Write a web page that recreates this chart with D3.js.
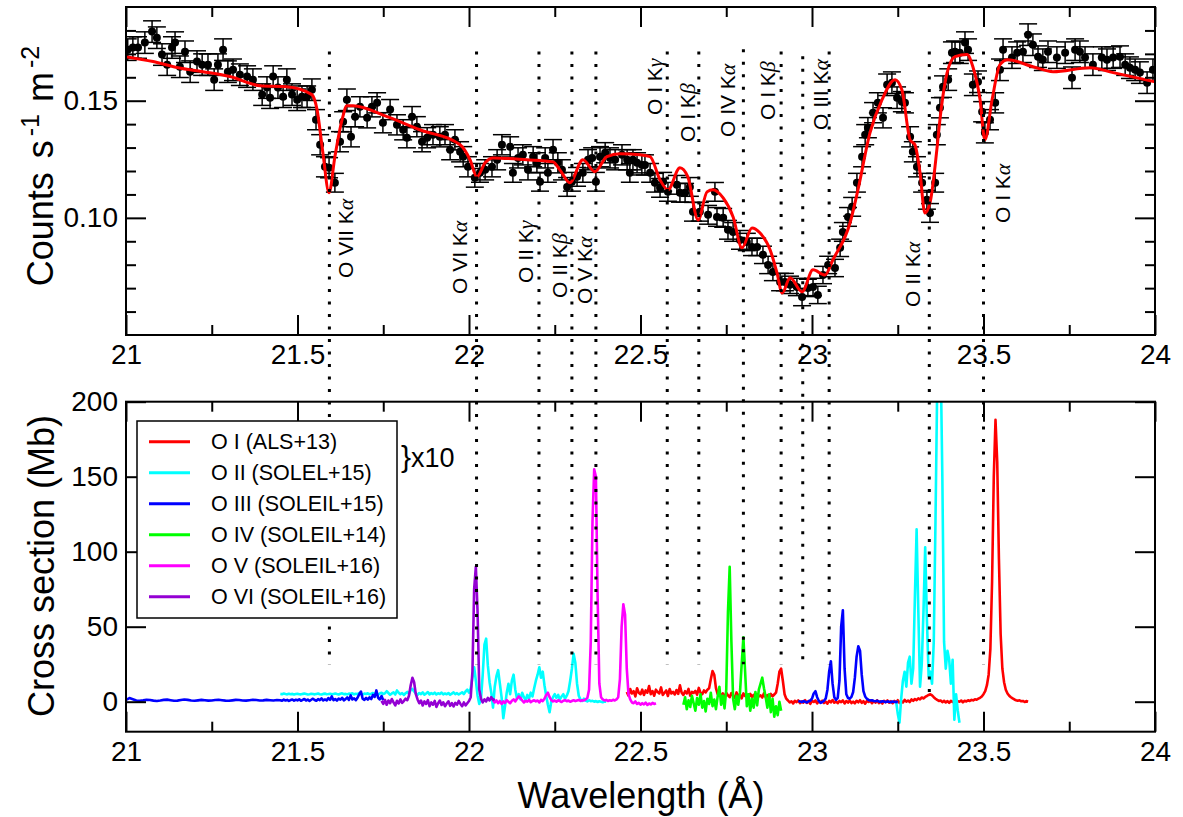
<!DOCTYPE html>
<html><head><meta charset="utf-8">
<script src="https://cdn.jsdelivr.net/npm/d3@7"></script>
<style>
body{margin:0;background:#fff;}
svg{display:block;font-family:"Liberation Sans",Arial,Helvetica,sans-serif;}
</style>
</head><body>
<svg id="c" width="1183" height="817"></svg>
<script>
// ---------------- axes / ticks ----------------
const xDomain = [21, 24];
const xMajor = [21, 21.5, 22, 22.5, 23, 23.5, 24];
const xMajorLabels = ["21", "21.5", "22", "22.5", "23", "23.5", "24"];
const xMinor = [21.25, 21.75, 22.25, 22.75, 23.25, 23.75];
const topYDomain = [0.05, 0.19];
const topYMajor = [0.10, 0.15];
const topYMajorLabels = ["0.10", "0.15"];
const topYMinor = [0.06, 0.07, 0.08, 0.09, 0.11, 0.12, 0.13, 0.14, 0.16, 0.17, 0.18];
const botYDomain = [-20, 200];
const botYMajor = [0, 50, 100, 150, 200];
const botYMajorLabels = ["0", "50", "100", "150", "200"];

// ---------------- top panel: observed counts [wavelength, counts, error] ----------------
const obsData = [
[21.005,0.1718,.0046],[21.020,0.1727,.0046],[21.035,0.1727,.0046],[21.055,0.1748,.0046],[21.076,0.1795,.0046],
[21.090,0.1769,.0046],[21.105,0.1697,.0046],[21.120,0.1654,.0046],[21.134,0.1727,.0046],[21.143,0.1748,.0046],
[21.157,0.1645,.0046],[21.172,0.1709,.0046],[21.187,0.1624,.0046],[21.207,0.1667,.0046],[21.222,0.1654,.0046],
[21.239,0.1654,.0046],[21.257,0.1590,.0046],[21.268,0.1654,.0046],[21.283,0.1718,.0046],[21.297,0.1624,.0046],
[21.312,0.1632,.0046],[21.332,0.1611,.0046],[21.353,0.1603,.0046],[21.370,0.1590,.0046],[21.397,0.1526,.0046],
[21.411,0.1556,.0046],[21.420,0.1513,.0046],[21.429,0.1603,.0046],[21.443,0.1556,.0046],[21.458,0.1517,.0046],
[21.469,0.1590,.0046],[21.484,0.1526,.0046],[21.499,0.1504,.0046],[21.513,0.1517,.0046],[21.528,0.1517,.0046],
[21.542,0.1547,.0046],[21.554,0.1419,.0043],[21.566,0.1312,.0043],[21.580,0.1218,.0043],[21.592,0.1214,.0043],
[21.609,0.1150,.0040],[21.624,0.1325,.0043],[21.633,0.1410,.0043],[21.644,0.1504,.0046],[21.656,0.1346,.0043],
[21.668,0.1432,.0043],[21.682,0.1474,.0043],[21.703,0.1427,.0043],[21.717,0.1474,.0043],[21.732,0.1491,.0043],
[21.749,0.1406,.0043],[21.770,0.1462,.0043],[21.790,0.1397,.0043],[21.808,0.1376,.0043],[21.819,0.1342,.0043],
[21.834,0.1432,.0043],[21.848,0.1389,.0043],[21.863,0.1325,.0043],[21.878,0.1342,.0043],[21.895,0.1355,.0043],
[21.915,0.1346,.0043],[21.930,0.1355,.0043],[21.945,0.1291,.0043],[21.959,0.1333,.0043],[21.974,0.1282,.0043],
[21.983,0.1261,.0043],[21.997,0.1218,.0043],[22.017,0.1171,.0040],[22.032,0.1192,.0040],[22.047,0.1205,.0043],
[22.067,0.1218,.0043],[22.082,0.1248,.0043],[22.096,0.1312,.0043],[22.120,0.1303,.0043],[22.128,0.1192,.0040],
[22.143,0.1256,.0043],[22.157,0.1269,.0043],[22.172,0.1205,.0043],[22.187,0.1261,.0043],[22.198,0.1235,.0043],
[22.207,0.1154,.0040],[22.222,0.1256,.0043],[22.230,0.1192,.0040],[22.245,0.1291,.0043],[22.259,0.1235,.0043],
[22.271,0.1205,.0043],[22.286,0.1132,.0040],[22.300,0.1154,.0040],[22.315,0.1175,.0040],[22.332,0.1192,.0040],
[22.347,0.1248,.0043],[22.359,0.1256,.0043],[22.370,0.1154,.0040],[22.382,0.1261,.0043],[22.397,0.1278,.0043],
[22.411,0.1256,.0043],[22.426,0.1248,.0043],[22.446,0.1269,.0043],[22.461,0.1248,.0043],[22.469,0.1192,.0040],
[22.478,0.1248,.0043],[22.490,0.1235,.0043],[22.504,0.1226,.0043],[22.513,0.1226,.0043],[22.528,0.1192,.0040],
[22.542,0.1150,.0040],[22.557,0.1128,.0040],[22.566,0.1154,.0040],[22.580,0.1111,.0040],[22.606,0.1141,.0040],
[22.615,0.1107,.0040],[22.630,0.1107,.0040],[22.644,0.1132,.0040],[22.653,0.1026,.0040],[22.673,0.1026,.0040],
[22.697,0.1013,.0040],[22.717,0.1111,.0040],[22.723,0.1004,.0040],[22.741,0.1000,.0040],[22.755,0.0949,.0040],
[22.770,0.0940,.0040],[22.790,0.0906,.0040],[22.810,0.0897,.0037],[22.825,0.0876,.0037],[22.840,0.0876,.0037],
[22.857,0.0842,.0037],[22.872,0.0799,.0037],[22.886,0.0769,.0037],[22.907,0.0726,.0037],[22.921,0.0726,.0037],
[22.936,0.0714,.0037],[22.956,0.0705,.0037],[22.971,0.0662,.0037],[22.988,0.0701,.0037],[23.003,0.0705,.0037],
[23.017,0.0671,.0037],[23.032,0.0756,.0037],[23.047,0.0799,.0037],[23.067,0.0786,.0037],[23.082,0.0872,.0037],
[23.090,0.0940,.0040],[23.105,0.1004,.0040],[23.117,0.1047,.0040],[23.131,0.1150,.0040],[23.146,0.1261,.0043],
[23.155,0.1355,.0043],[23.163,0.1385,.0043],[23.178,0.1449,.0043],[23.192,0.1491,.0043],[23.207,0.1427,.0043],
[23.219,0.1568,.0046],[23.233,0.1577,.0046],[23.248,0.1513,.0046],[23.262,0.1496,.0043],[23.271,0.1491,.0043],
[23.286,0.1346,.0043],[23.294,0.1282,.0043],[23.306,0.1218,.0043],[23.321,0.1150,.0040],[23.335,0.1077,.0040],
[23.344,0.1021,.0040],[23.359,0.1150,.0040],[23.364,0.1355,.0043],[23.373,0.1470,.0043],[23.382,0.1560,.0046],
[23.397,0.1590,.0046],[23.408,0.1705,.0046],[23.417,0.1709,.0046],[23.431,0.1705,.0046],[23.446,0.1748,.0046],
[23.455,0.1718,.0046],[23.469,0.1568,.0046],[23.484,0.1581,.0046],[23.496,0.1453,.0043],[23.504,0.1363,.0043],
[23.519,0.1419,.0043],[23.534,0.1491,.0043],[23.548,0.1632,.0046],[23.557,0.1718,.0046],[23.583,0.1684,.0046],
[23.598,0.1705,.0046],[23.615,0.1709,.0046],[23.630,0.1782,.0046],[23.644,0.1739,.0046],[23.659,0.1688,.0046],
[23.673,0.1675,.0046],[23.688,0.1709,.0046],[23.714,0.1684,.0046],[23.738,0.1705,.0046],[23.758,0.1598,.0046],
[23.767,0.1718,.0046],[23.781,0.1709,.0046],[23.796,0.1684,.0046],[23.819,0.1654,.0046],[23.845,0.1684,.0046],
[23.860,0.1675,.0046],[23.878,0.1684,.0046],[23.898,0.1688,.0046],[23.913,0.1654,.0046],[23.927,0.1641,.0046],
[23.942,0.1632,.0046],[23.956,0.1620,.0046],[23.977,0.1577,.0046],[23.994,0.1632,.0046]
];

// model (red curve)
const modelWave = [21.000,21.079,21.152,21.224,21.303,21.391,21.469,21.542,21.557,21.574,21.592,21.609,21.630,21.644,21.662,21.761,21.857,21.974,22.003,22.023,22.047,22.070,22.169,22.245,22.265,22.294,22.332,22.367,22.402,22.440,22.499,22.528,22.557,22.580,22.615,22.638,22.668,22.694,22.711,22.741,22.770,22.796,22.825,22.848,22.878,22.898,22.913,22.936,22.971,23.003,23.038,23.061,23.111,23.134,23.169,23.204,23.242,23.262,23.286,23.300,23.315,23.329,23.344,23.364,23.373,23.394,23.417,23.452,23.469,23.490,23.504,23.525,23.548,23.571,23.644,23.703,23.810,23.878,24.000];
const modelCounts = [0.1688,0.1667,0.1641,0.1624,0.1603,0.1564,0.1560,0.1526,0.1462,0.1278,0.1107,0.1261,0.1419,0.1479,0.1479,0.1432,0.1376,0.1312,0.1248,0.1175,0.1235,0.1256,0.1248,0.1239,0.1205,0.1150,0.1248,0.1197,0.1261,0.1274,0.1269,0.1261,0.1162,0.1120,0.1214,0.1175,0.0991,0.1111,0.1120,0.1085,0.1004,0.0872,0.0957,0.0936,0.0863,0.0765,0.0679,0.0744,0.0684,0.0778,0.0756,0.0821,0.0979,0.1120,0.1363,0.1504,0.1590,0.1547,0.1333,0.1312,0.1192,0.1021,0.1064,0.1291,0.1419,0.1620,0.1688,0.1697,0.1645,0.1504,0.1333,0.1504,0.1654,0.1675,0.1645,0.1624,0.1641,0.1620,0.1581];

// transition lines (dotted) and labels
const lineWaves = [21.593,22.022,22.204,22.300,22.370,22.578,22.670,22.800,22.910,22.973,23.050,23.342,23.500];
const lineTopCounts = [0.171,0.171,0.171,0.171,0.171,0.171,0.171,0.172,0.171,0.169,0.171,0.171,0.171];
const lineBottomMb = [25,25,25,25,25,25,25,25,25,25,25,1,25];
const lineLabelIons = ["O VII K","O VI K","O II K","O II K","O V K","O I K","O I K","O IV K","O I K","O III K","O II K","O I K"];
const lineLabelGreek = ["\u03b1","\u03b1","\u03b3","\u03b2","\u03b1","\u03b3","\u03b2","\u03b1","\u03b2","\u03b1","\u03b1","\u03b1"];
const labelWaves = [21.593,22.022,22.204,22.300,22.370,22.578,22.670,22.800,22.910,23.050,23.342,23.500];

// ---------------- bottom panel: cross sections (Mb) on wavelength grids ----------------
const gridStep = 0.005;
const oI_start = 22.46;
const oI_vals = [6.5,4.0,8.5,5.5,7.0,3.5,9.0,6.0,5.0,8.0,4.5,7.5,6.0,10.5,5.0,7.0,4.0,8.0,6.5,5.5,9.5,4.5,6.0,7.5,3.8,8.5,5.5,6.5,4.8,7.8,5.2,11.0,6.0,4.5,7.0,5.5,8.5,4.0,6.5,5.8,7.2,4.6,9.2,6.0,5.0,7.5,6.2,8.0,
 9.0,15.0,20.5,18.0,9.0,5.0,6.5,
 3.5,5.5,2.8,6.0,4.2,3.0,5.8,4.0,2.5,6.2,3.6,4.8,2.2,5.5,3.8,4.5,2.6,5.2,3.2,4.6,2.0,5.0,3.5,4.2,2.8,5.6,3.0,4.4,2.4,5.2,3.6,4.8,
 6.0,12.0,20.0,22.0,14.0,5.0,2.0,
 0.8,-0.5,0.3,-1.2,0.6,-0.3,0.9,-1.0,0.2,-0.6,1.0,-0.8,0.4,-1.4,0.5,-0.2,0.8,-1.1,0.3,-0.5,
 0.7,-0.9,0.1,-1.3,0.6,-0.4,1.1,-0.7,0.2,-1.0,0.5,-0.3,0.9,-1.2,0.4,-0.6,0.8,-0.9,0.0,-1.1,
 0.6,-0.4,1.0,-0.8,0.3,-1.3,0.5,-0.2,0.7,-1.0,0.4,-0.6,0.9,-0.9,0.2,-1.2,0.6,-0.3,0.8,-0.7,
 0.3,-1.0,0.5,-0.4,1.0,-0.8,0.4,-0.5,1.2,0.0,0.8,-0.2,1.5,0.6,1.8,1.0,2.2,1.6,2.8,2.2,3.2,
 3.8,4.5,5.0,4.2,3.0,2.0,1.2,0.5,0.8,-0.3,0.6,-0.5,0.4,-0.8,0.5,-0.2,0.7,-0.6,0.3,0.0,0.8,-0.4,0.6,0.2,1.0,0.5,1.2,0.9,1.6,1.3,2.0,2.6,3.5,5.0,
 7.0,11.0,18.0,35.0,80.0,150.0,188.0,160.0,95.0,45.0,22.0,13.0,8.0,5.5,
 4.0,3.0,2.2,1.5,1.0,0.6,0.9,0.3,0.5,-0.2,0.4,0.0];

const oII_startA = 21.45;
const oII_valsA = [5.2,5.0,5.4,5.1,4.9,5.3,5.0,5.2,4.8,5.1,5.3,5.0,4.9,5.2,5.4,5.1,4.8,5.0,5.3,5.1,
 4.9,5.2,5.5,5.0,4.8,5.2,5.4,5.0,5.1,5.3,4.9,5.2,5.5,5.1,4.8,5.3,5.6,5.0,5.2,4.9,
 5.4,5.1,5.6,4.9,5.3,5.0,5.7,5.2,4.8,5.4,5.1,5.6,4.9,5.3,5.8,5.0,5.4,4.7,5.5,6.0,
 5.1,5.6,7.0,5.8,4.6,5.5,6.2,4.8,7.5,6.0,5.0,5.8,4.5,5.6,6.5,5.2,7.8,8.5,6.8,5.5,
 4.6,5.8,5.0,6.2,4.7,5.5,6.4,4.9,5.7,5.1,6.0,4.8,5.6,5.2,6.1,4.9,5.5,5.0,5.8,4.6,
 5.4,6.2,5.0,5.7,4.8,5.5,6.3,5.1,6.8,8.0,6.0,9.0,16.0,23.0,14.0,4.0,-1.5,2.0,18.0,38.0,
 42.0,24.0,13.0,6.0,-4.0,10.0,17.0,21.0,12.0,3.0,-11.0,-3.0,6.0,12.0,5.0,14.0,18.0,8.0,2.0,5.0,
 1.5,6.0,3.0,1.0,4.5,2.0,6.0,3.5,9.0,14.0,18.0,23.0,16.0,20.0,11.0,4.0,-2.0,-7.0,0.5,3.0,
 5.0,2.5,4.5,1.5,3.5,5.0,2.0,4.0,7.0,14.0,22.0,32.0,26.0,12.0,4.0,1.5,0.5,2.0,0.8,0.2,
 1.0,0.3,0.6,0.0,0.4,-0.2,0.3,0.0,-0.3,0.1,0.0];
const oII_startB = 23.245;
const oII_valsB = [0.5,-8.0,-14.0,2.0,14.0,20.0,10.0,26.0,30.0,12.0,22.0,70.0,115.0,60.0,10.0,25.0,60.0,103.0,55.0,17.0,
 20.0,12.0,40.0,120.0,210.0,240.0,230.0,150.0,40.0,22.0,34.0,28.0,12.0,28.0,-12.0,5.0,-6.0,-14.0];

const oIII_startA = 21.00, oIII_stepA = 0.01;
const oIII_valsA = [1.2,2.4,1.6,0.8,0.6,0.9,1.3,1.1,0.7,0.5,0.8,1.2,1.4,1.0,0.6,0.7,1.1,1.5,1.2,0.8,
 0.6,0.9,1.2,1.0,0.7,0.8,1.1,1.3,1.0,0.7,0.6,0.9,1.2,1.1,0.8,0.7,1.0,1.3,1.1,0.8,0.9,1.2,1.0,0.8,1.1];
const oIII_startB = 21.45;
const oIII_valsB = [1.0,0.6,1.4,0.8,1.2,0.5,1.1,1.5,0.7,1.3,0.9,1.6,0.6,1.2,1.8,0.8,1.4,0.5,1.3,2.0,
 1.1,0.6,1.7,1.0,2.2,0.8,1.5,0.9,2.4,1.2,3.5,1.0,1.8,0.7,2.1,1.3,2.6,0.9,1.7,2.8,
 1.2,4.2,1.5,2.3,1.0,2.6,5.0,6.8,2.0,1.2,2.5,1.4,2.9,1.8,4.5,3.2,7.5,2.6,1.5,3.8,1.0];
const oIII_startC = 22.96;
const oIII_valsC = [0.5,0.2,-0.3,0.4,0.0,-0.5,0.3,0.8,2.0,5.5,7.0,3.0,0.5,-0.8,-0.2,0.6,2.2,8.0,20.0,27.0,
 12.0,3.0,1.2,2.5,14.0,50.0,61.0,22.0,5.0,2.5,2.0,3.2,6.5,16.0,30.0,37.0,34.0,18.0,7.0,3.5,
 2.0,1.2,0.8,1.0,0.5,0.3,0.6,0.2,-0.2,0.3,0.1,-0.3,0.2,0.0,-0.4,0.1,-0.2,0.0,-0.5];

const oIV_start = 22.625;
const oIV_vals = [-2.0,3.0,-5.0,1.0,-3.5,4.0,-1.0,-6.0,2.5,-2.0,5.0,-4.0,0.5,-6.5,2.0,-1.5,6.0,-3.0,1.5,-5.0,
 3.5,10.0,-2.0,4.0,-4.5,8.0,60.0,90.0,40.0,2.0,-5.0,4.0,-2.0,6.0,25.0,43.0,20.0,-3.0,5.0,-6.0,
 2.0,-4.0,6.5,-2.5,8.0,12.0,16.0,9.0,3.0,-4.0,5.0,-7.0,2.0,-10.0,-3.0,-9.0,0.0,-6.0];

const oV_start = 22.07;
const oV_vals = [1.0,-0.5,0.8,-1.0,0.5,-1.5,0.2,-0.8,1.0,0.0,-1.0,0.6,1.5,0.2,2.0,3.5,2.5,0.8,-0.5,0.6,
 0.0,1.2,-0.3,0.5,1.0,0.2,0.8,-0.5,1.2,0.4,2.0,4.5,6.0,3.0,1.0,0.2,0.8,0.0,1.0,0.4,
 -0.2,0.6,1.0,0.3,0.8,0.0,0.5,1.0,0.4,0.8,1.2,0.5,1.0,0.8,1.5,2.5,8.0,40.0,120.0,155.0,
 150.0,70.0,12.0,3.0,1.5,0.8,1.2,0.5,1.0,0.6,1.3,0.8,1.5,3.0,15.0,50.0,65.0,58.0,22.0,5.0,
 1.5,-0.5,-1.0,0.2,-1.5,-0.8,-2.0,-1.0,-1.8,-0.6,-2.2,-1.2,-1.8,-0.8,-1.5,-1.0];

const oVI_start = 21.745;
const oVI_vals = [0.5,-1.5,1.2,-2.0,0.8,-1.0,1.8,-0.5,-2.5,0.6,-1.2,1.5,-0.8,0.4,2.0,1.0,4.0,11.0,16.0,13.0,
 5.0,1.5,-1.0,0.8,-2.5,0.2,-1.5,1.0,-3.0,-0.5,-2.0,0.5,-3.5,-1.0,0.8,-2.2,-0.4,-3.0,-1.2,0.3,
 -2.8,-1.0,-3.2,-0.8,-2.0,0.5,-1.5,-3.0,-0.5,-2.5,-1.0,0.5,3.0,20.0,75.0,90.0,60.0,8.0,2.0,-0.5,
 1.5,0.2,2.5,0.8,3.0,1.2,2.0];

const seriesNames = ["O I (ALS+13)","O II (SOLEL+15)","O III (SOLEIL+15)","O IV (SOLEIL+14)","O V (SOLEIL+16)","O VI (SOLEIL+16)"];
const seriesColors = ["#ff0000","#00ffff","#0000ff","#00ff00","#ff00ff","#9400d3"];

// ---------------- build ----------------
const grid = (start, step, vals) => vals.map((v, i) => [start + i * step, v]);
const seriesSegments = [
  [grid(oI_start, gridStep, oI_vals)],
  [grid(oII_startA, gridStep, oII_valsA), grid(oII_startB, gridStep, oII_valsB)],
  [grid(oIII_startA, oIII_stepA, oIII_valsA).concat(grid(oIII_startB, gridStep, oIII_valsB)), grid(oIII_startC, gridStep, oIII_valsC)],
  [grid(oIV_start, gridStep, oIV_vals)],
  [grid(oV_start, gridStep, oV_vals)],
  [grid(oVI_start, gridStep, oVI_vals)]
];

const svg = d3.select("#c");
const L = 126, R = 1155;
const T1 = 7, B1 = 335, T2 = 401.7, B2 = 731.7;
const x = d3.scaleLinear().domain(xDomain).range([L, R]);
const yT = d3.scaleLinear().domain(topYDomain).range([B1, T1]);
const yB = d3.scaleLinear().domain(botYDomain).range([B2, T2]);

const defs = svg.append("defs");
defs.append("clipPath").attr("id", "clipT").append("rect").attr("x", L).attr("y", T1).attr("width", R - L).attr("height", B1 - T1);
defs.append("clipPath").attr("id", "clipB").append("rect").attr("x", L).attr("y", T2).attr("width", R - L).attr("height", B2 - T2);

function drawAxes(top, bottom, yScale, yMajor, yMajorLabels, yMinor) {
  const g = svg.append("g");
  const style = sel => { sel.select(".domain").remove(); sel.selectAll("line").attr("stroke", "#000").attr("stroke-width", 2); sel.selectAll("text").attr("font-size", 28).attr("fill", "#000").attr("font-family", "Liberation Sans, Arial, sans-serif"); };
  g.append("g").attr("transform", `translate(0,${bottom})`).call(d3.axisBottom(x).tickValues(xMajor).tickSize(-20).tickPadding(9).tickFormat((d, i) => xMajorLabels[i])).call(style);
  g.append("g").attr("transform", `translate(0,${bottom})`).call(d3.axisBottom(x).tickValues(xMinor).tickSize(-10).tickFormat("")).call(style);
  g.append("g").attr("transform", `translate(0,${top})`).call(d3.axisTop(x).tickValues(xMajor).tickSize(-20).tickFormat("")).call(style);
  g.append("g").attr("transform", `translate(0,${top})`).call(d3.axisTop(x).tickValues(xMinor).tickSize(-10).tickFormat("")).call(style);
  g.append("g").attr("transform", `translate(${L},0)`).call(d3.axisLeft(yScale).tickValues(yMajor).tickSize(-20).tickPadding(8).tickFormat((d, i) => yMajorLabels[i])).call(style);
  if (yMinor.length) g.append("g").attr("transform", `translate(${L},0)`).call(d3.axisLeft(yScale).tickValues(yMinor).tickSize(-10).tickFormat("")).call(style);
  g.append("g").attr("transform", `translate(${R},0)`).call(d3.axisRight(yScale).tickValues(yMajor).tickSize(-20).tickFormat("")).call(style);
  if (yMinor.length) g.append("g").attr("transform", `translate(${R},0)`).call(d3.axisRight(yScale).tickValues(yMinor).tickSize(-10).tickFormat("")).call(style);
  g.append("rect").attr("x", L).attr("y", top).attr("width", R - L).attr("height", bottom - top).attr("fill", "none").attr("stroke", "#000").attr("stroke-width", 2);
}

// ---- top panel data ----
const gT = svg.append("g").attr("clip-path", "url(#clipT)");
const eb = gT.append("g").attr("stroke", "#000").attr("stroke-width", 1.5);
const capW = 9;
eb.selectAll("line.v").data(obsData).join("line").attr("class", "v")
  .attr("x1", d => x(d[0])).attr("x2", d => x(d[0])).attr("y1", d => yT(d[1] - d[2])).attr("y2", d => yT(d[1] + d[2]));
eb.selectAll("line.ct").data(obsData).join("line").attr("class", "ct")
  .attr("x1", d => x(d[0]) - capW).attr("x2", d => x(d[0]) + capW).attr("y1", d => yT(d[1] + d[2])).attr("y2", d => yT(d[1] + d[2]));
eb.selectAll("line.cb").data(obsData).join("line").attr("class", "cb")
  .attr("x1", d => x(d[0]) - capW).attr("x2", d => x(d[0]) + capW).attr("y1", d => yT(d[1] - d[2])).attr("y2", d => yT(d[1] - d[2]));
gT.append("g").selectAll("circle").data(obsData).join("circle")
  .attr("cx", d => x(d[0])).attr("cy", d => yT(d[1])).attr("r", 4).attr("fill", "#000");
const model = modelWave.map((w, i) => [w, modelCounts[i]]);
gT.append("path").datum(model).attr("fill", "none").attr("stroke", "#ff0000").attr("stroke-width", 3).attr("stroke-linejoin", "round")
  .attr("d", d3.line().x(d => x(d[0])).y(d => yT(d[1])).curve(d3.curveMonotoneX));

// ---- bottom panel spectra ----
const gB = svg.append("g").attr("clip-path", "url(#clipB)");
const lineB = d3.line().x(d => x(d[0])).y(d => yB(d[1]));
seriesSegments.forEach((segs, si) => {
  segs.forEach(seg => {
    gB.append("path").datum(seg).attr("fill", "none").attr("stroke", seriesColors[si]).attr("stroke-width", 2.6)
      .attr("stroke-linejoin", "round").attr("d", lineB);
  });
});

drawAxes(T1, B1, yT, topYMajor, topYMajorLabels, topYMinor);
drawAxes(T2, B2, yB, botYMajor, botYMajorLabels, []);

// ---- dotted transition lines ----
svg.append("g").selectAll("line").data(lineWaves).join("line")
  .attr("x1", d => x(d)).attr("x2", d => x(d))
  .attr("y1", (d, i) => yT(lineTopCounts[i])).attr("y2", (d, i) => yB(lineBottomMb[i]))
  .attr("stroke", "#000").attr("stroke-width", 3).attr("stroke-dasharray", "3,9.5");

// ---- line labels (rotated) ----
const labelDx = [23.5, -9.7, -6, -5, -4, -5, -4, -8, -6, -1, -9, 26];
const labelBaseY = [278, 294, 283, 298, 304, 115, 142, 137, 120, 130, 307, 223];
const lbl = svg.append("g").selectAll("text").data(lineLabelIons).join("text")
  .attr("transform", (d, i) => `translate(${x(labelWaves[i]) + labelDx[i]},${labelBaseY[i]}) rotate(-90)`)
  .attr("font-size", 21).attr("fill", "#000");
lbl.append("tspan").text(d => d);
lbl.append("tspan").attr("font-family", "Liberation Serif, Times New Roman, serif").attr("font-style", "italic").attr("font-size", 22)
  .text((d, i) => lineLabelGreek[i]);

// ---- legend ----
const lg = svg.append("g");
lg.append("rect").attr("x", 137).attr("y", 421).attr("width", 260).attr("height", 197).attr("fill", "#fff").attr("stroke", "#000").attr("stroke-width", 1.5);
seriesNames.forEach((n, i) => {
  const yy = 441.7 + 31 * i;
  lg.append("line").attr("x1", 149).attr("x2", 190).attr("y1", yy).attr("y2", yy).attr("stroke", seriesColors[i]).attr("stroke-width", 3);
  lg.append("text").attr("x", 211).attr("y", yy + 7.5).attr("font-size", 21.5).attr("fill", "#000").text(n);
});
const tx = svg.append("text").attr("x", 401).attr("y", 467).attr("fill", "#000");
tx.append("tspan").attr("font-size", 30).text("}");
tx.append("tspan").attr("font-size", 27).text("x10");

// ---- axis titles ----
const yt = svg.append("text").attr("transform", "translate(53,166) rotate(-90)").attr("text-anchor", "middle").attr("font-size", 36).attr("fill", "#000");
yt.append("tspan").text("Counts");
yt.append("tspan").attr("dx", 14).text("s");
yt.append("tspan").attr("font-size", 25).attr("dy", -14).attr("dx", 4).text("-1");
yt.append("tspan").attr("dy", 14).attr("dx", 12).text("m");
yt.append("tspan").attr("font-size", 25).attr("dy", -14).attr("dx", 4).text("-2");
svg.append("text").attr("transform", "translate(54,566) rotate(-90)").attr("text-anchor", "middle").attr("font-size", 36).attr("fill", "#000").text("Cross section (Mb)");
svg.append("text").attr("x", 641).attr("y", 808).attr("text-anchor", "middle").attr("font-size", 36).attr("fill", "#000").text("Wavelength (\u00c5)");
</script>
</body></html>
